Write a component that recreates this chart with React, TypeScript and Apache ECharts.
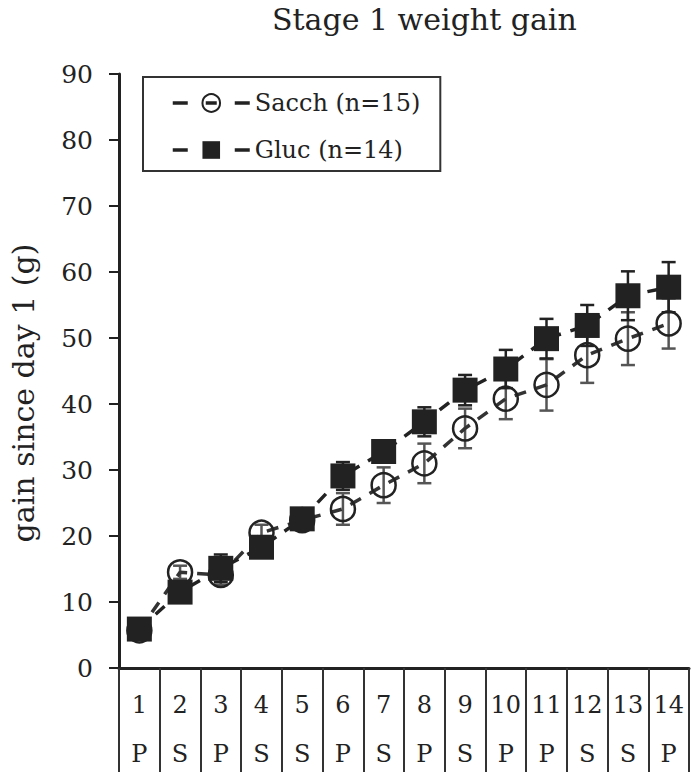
import React, { useEffect, useRef } from "react";
import * as echarts from "echarts";

const days = ["1", "2", "3", "4", "5", "6", "7", "8", "9", "10", "11", "12", "13", "14"];
const phases = ["P", "S", "P", "S", "S", "P", "S", "P", "S", "P", "P", "S", "S", "P"];
const yTicks = { min: 0, max: 90, interval: 10 };

const sacchMean = [5.7, 14.5, 14.1, 20.5, 22.4, 24.1, 27.7, 31.0, 36.3, 40.8, 42.9, 47.4, 49.9, 52.2];
const sacchErr = [0.8, 1.0, 1.5, 1.2, 1.3, 2.4, 2.7, 3.0, 3.0, 3.1, 3.9, 4.2, 4.0, 3.8];
const glucMean = [5.9, 11.5, 15.1, 18.3, 22.6, 29.1, 32.8, 37.3, 42.1, 45.3, 49.9, 51.9, 56.4, 57.7];
const glucErr = [1.0, 1.0, 2.1, 1.2, 1.2, 2.1, 1.6, 2.2, 2.3, 2.9, 3.0, 3.1, 3.7, 3.8];

const seriesNames = ["Sacch (n=15)", "Gluc (n=14)"];
const titleText = "Stage 1 weight gain";
const yName = "gain since day 1 (g)";

const FONT = "DejaVu Serif";

function errData(mean: number[], err: number[]) {
  return mean.map((m, i) => [i, m - err[i], m + err[i]]);
}

function errRender(color: string) {
  return (params: any, api: any) => {
    const lo = api.coord([api.value(0), api.value(1)]);
    const hi = api.coord([api.value(0), api.value(2)]);
    const w = 7;
    const style = { stroke: color, lineWidth: 2.5 };
    return {
      type: "group",
      children: [
        { type: "line", shape: { x1: lo[0], y1: lo[1], x2: hi[0], y2: hi[1] }, style },
        { type: "line", shape: { x1: lo[0] - w, y1: lo[1], x2: lo[0] + w, y2: lo[1] }, style },
        { type: "line", shape: { x1: hi[0] - w, y1: hi[1], x2: hi[0] + w, y2: hi[1] }, style },
      ],
    };
  };
}

export default function App() {
  const ref = useRef<HTMLDivElement>(null);
  useEffect(() => {
    if (!ref.current) return;
    const chart = echarts.init(ref.current, null, { renderer: "svg" });
    chart.setOption({
      animation: false,
      backgroundColor: "#fff",
      title: {
        text: titleText,
        left: 272,
        top: 4,
        padding: 0,
        textStyle: { fontFamily: FONT, fontSize: 30, fontWeight: "normal", color: "#222" },
      },
      legend: {
        data: seriesNames,
        orient: "vertical",
        left: 143,
        top: 77,
        padding: [14, 20, 9, 28],
        itemWidth: 77,
        itemHeight: 22,
        itemGap: 23,
        borderColor: "#333",
        borderWidth: 2,
        selectedMode: false,
        lineStyle: { type: [15, 18, 11, 18], width: 3.5, color: "#222" },
        textStyle: { fontFamily: FONT, fontSize: 24, color: "#222", lineHeight: 22 },
      },
      grid: { left: 119, right: 5, top: 74, bottom: 104 },
      xAxis: {
        type: "category",
        data: days,
        boundaryGap: true,
        axisLine: { lineStyle: { color: "#222", width: 3 } },
        axisTick: { show: true, interval: 0, length: 104, lineStyle: { color: "#333", width: 2 } },
        axisLabel: {
          interval: 0,
          margin: 12,
          fontFamily: FONT,
          fontSize: 24,
          lineHeight: 49,
          color: "#222",
          formatter: (v: string, i: number) => `${v}\n${phases[i]}`,
        },
        splitLine: { show: false },
      },
      yAxis: {
        type: "value",
        min: yTicks.min,
        max: yTicks.max,
        interval: yTicks.interval,
        axisLine: { show: true, lineStyle: { color: "#222", width: 3 } },
        axisTick: { show: true, length: 10, lineStyle: { color: "#222", width: 2 } },
        axisLabel: { fontFamily: FONT, fontSize: 25, color: "#222", margin: 26 },
        splitLine: { show: false },
      },
      graphic: [
        {
          type: "text",
          x: 23,
          y: 393,
          rotation: Math.PI / 2,
          style: {
            text: yName,
            font: `30px "${FONT}"`,
            fill: "#222",
            align: "center",
            verticalAlign: "middle",
          },
        },
      ],
      series: [
        {
          type: "custom",
          name: "sacchErr",
          z: 1,
          data: errData(sacchMean, sacchErr),
          encode: { x: 0, y: [1, 2] },
          renderItem: errRender("#555"),
          silent: true,
        },
        {
          type: "custom",
          name: "glucErr",
          z: 1,
          data: errData(glucMean, glucErr),
          encode: { x: 0, y: [1, 2] },
          renderItem: errRender("#222"),
          silent: true,
        },
        {
          type: "line",
          name: seriesNames[0],
          z: 3,
          data: sacchMean,
          symbol: "circle",
          symbolSize: 24,
          lineStyle: { color: "#333", width: 3.5, type: [12, 10] },
          itemStyle: { color: "rgba(0,0,0,0)", borderColor: "#222", borderWidth: 2.5 },
        },
        {
          type: "line",
          name: seriesNames[1],
          z: 4,
          data: glucMean,
          symbol: "rect",
          symbolSize: 25,
          lineStyle: { color: "#222", width: 3.5, type: [12, 10] },
          itemStyle: { color: "#222", borderColor: "#222", borderWidth: 0 },
        },
      ],
    });
    return () => chart.dispose();
  }, []);
  return (
    <div
      ref={ref}
      style={{ position: "fixed", left: 0, top: 0, width: 694, height: 778, background: "#fff" }}
    />
  );
}
